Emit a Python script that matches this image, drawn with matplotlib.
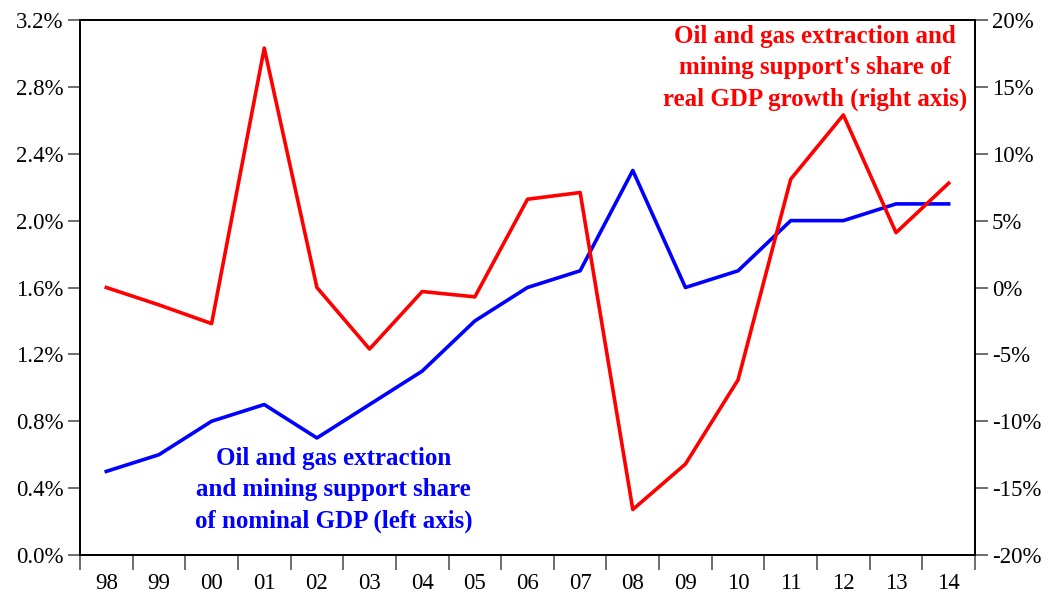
import numpy as np
import matplotlib.pyplot as plt
from matplotlib.ticker import FuncFormatter, FixedLocator

# data
years = ['98', '99', '00', '01', '02', '03', '04', '05', '06',
         '07', '08', '09', '10', '11', '12', '13', '14']
nominal_share = [0.5, 0.6, 0.8, 0.9, 0.7, 0.9, 1.1, 1.4, 1.6,
                 1.7, 2.3, 1.6, 1.7, 2.0, 2.0, 2.1, 2.1]
real_growth_share = [0.0, -1.3, -2.7, 17.9, 0.0, -4.6, -0.3, -0.7, 6.6,
                     7.1, -16.6, -13.2, -6.9, 8.1, 12.9, 4.1, 7.8]

plt.rcParams['font.family'] = ['Liberation Serif', 'DejaVu Serif']

fig = plt.figure(figsize=(10.48, 5.94), dpi=100)
ax = fig.add_axes([80 / 1048, 39 / 594, 895 / 1048, 535 / 594])
ax2 = ax.twinx()

x = np.arange(len(years))
ax.plot(x, nominal_share, color='#0000ff', lw=2.6, zorder=3)
ax2.plot(x, real_growth_share, color='#ff0000', lw=2.6, zorder=3)

ax.set_xlim(-0.5, len(years) - 0.5)
ax.set_ylim(0, 3.2)
ax2.set_ylim(-20, 20)

ax.set_yticks(np.arange(0, 3.21, 0.4))
ax.yaxis.set_major_formatter(FuncFormatter(lambda v, p: f'{v:.1f}%'))
ax2.set_yticks(np.arange(-20, 21, 5))
ax2.yaxis.set_major_formatter(FuncFormatter(lambda v, p: f'{v:.0f}%'))

ax.set_xticks(x)
ax.set_xticklabels(years)
ax.xaxis.set_minor_locator(FixedLocator(np.arange(-0.5, len(years), 1)))
ax.tick_params(axis='x', which='major', length=0, pad=13, labelsize=16.5)
ax.tick_params(axis='x', which='minor', direction='out', length=11,
               width=1.2, color='#555555')
ax.tick_params(axis='y', direction='out', length=9, width=1.2,
               color='#555555', labelsize=16.5, pad=3)
ax2.tick_params(axis='y', direction='out', length=9, width=1.2,
                color='#555555', labelsize=16.5, pad=3)

for a in (ax, ax2):
    for s in a.spines.values():
        s.set_linewidth(1.3)
        s.set_color('black')

ax2.text(13.46, 16.4, "Oil and gas extraction and\nmining support's share of\nreal GDP growth (right axis)",
         color='#ff0000', fontsize=18, fontweight='bold', ha='center',
         va='center', linespacing=1.45)
ax.text(4.32, 0.39, "Oil and gas extraction\nand mining support share\nof nominal GDP (left axis)",
        color='#0000ff', fontsize=18, fontweight='bold', ha='center',
        va='center', linespacing=1.45)

fig.savefig('out.png', dpi=100)
